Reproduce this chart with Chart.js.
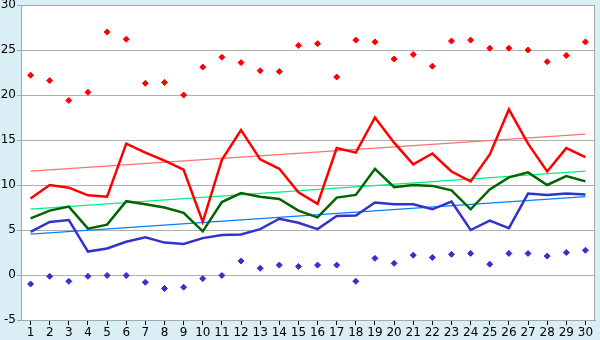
<!DOCTYPE html>
<html>
<head>
<meta charset="utf-8">
<script src="https://cdn.jsdelivr.net/npm/chart.js@4"></script>
<style>
  body { margin: 0; background: #d9eef5; }
</style>
</head>
<body>
<canvas id="myChart" width="600" height="340"></canvas>
<script>
const ctx = document.getElementById("myChart");

const days = [1, 2, 3, 4, 5, 6, 7, 8, 9, 10, 11, 12, 13, 14, 15, 16, 17, 18, 19, 20, 21, 22, 23, 24, 25, 26, 27, 28, 29, 30];
const yTicks = [-5, 0, 5, 10, 15, 20, 25, 30];

const maxPoints = [22.2, 21.6, 19.4, 20.3, 27.0, 26.2, 21.3, 21.4, 20.0, 23.1, 24.2, 23.6, 22.7, 22.6, 25.5, 25.7, 22.0, 26.1, 25.9, 24.0, 24.5, 23.2, 26.0, 26.1, 25.2, 25.2, 25.0, 23.7, 24.4, 25.9];
const redLine = [8.5, 10.0, 9.7, 8.85, 8.7, 14.6, 13.6, 12.7, 11.7, 5.9, 12.8, 16.1, 12.85, 11.8, 9.2, 7.9, 14.1, 13.6, 17.5, 14.7, 12.3, 13.5, 11.5, 10.4, 13.4, 18.4, 14.6, 11.5, 14.1, 13.1];
const greenLine = [6.3, 7.15, 7.6, 5.15, 5.6, 8.2, 7.85, 7.5, 6.9, 4.85, 8.1, 9.1, 8.7, 8.45, 7.15, 6.4, 8.6, 8.9, 11.8, 9.75, 10.0, 9.9, 9.4, 7.3, 9.5, 10.85, 11.4, 10.0, 11.0, 10.4];
const blueLine = [4.8, 5.9, 6.1, 2.6, 2.95, 3.7, 4.2, 3.6, 3.45, 4.1, 4.45, 4.5, 5.1, 6.25, 5.8, 5.1, 6.55, 6.6, 8.05, 7.85, 7.85, 7.3, 8.15, 5.0, 6.05, 5.2, 9.05, 8.9, 9.05, 8.95];
const minPoints = [-1.0, -0.15, -0.7, -0.15, -0.05, -0.05, -0.8, -1.5, -1.35, -0.4, -0.05, 1.55, 0.75, 1.1, 0.95, 1.1, 1.1, -0.7, 1.85, 1.3, 2.2, 1.95, 2.3, 2.4, 1.2, 2.4, 2.4, 2.1, 2.5, 2.75];

// trend lines: value at first and last day
const redTrend = [11.55, 15.65];
const greenTrend = [7.33, 11.55];
const blueTrend = [4.55, 8.7];

function ends(pair) {
  let d = days.map(() => null);
  d[0] = pair[0];
  d[d.length - 1] = pair[1];
  return d;
}

const frame = {
  id: "frame",
  beforeDraw(chart) {
    const c = chart.ctx;
    const a = chart.chartArea;
    c.save();
    c.fillStyle = "#d9eef5";
    c.fillRect(0, 0, chart.width, chart.height);
    c.fillStyle = "#ffffff";
    c.fillRect(a.left, a.top, a.right - a.left, a.bottom - a.top);
    c.restore();
  },
  afterDraw(chart) {
    const c = chart.ctx;
    const a = chart.chartArea;
    c.save();
    c.strokeStyle = "#a8a8a8";
    c.lineWidth = 1;
    c.strokeRect(a.left + 0.5, a.top + 0.5, a.right - a.left - 1, a.bottom - a.top);
    c.restore();
  },
};

function trendSet(data, color) {
  return {
    type: "line",
    data: ends(data),
    borderColor: color,
    borderWidth: 1.3,
    pointRadius: 0,
    spanGaps: true,
    order: 5,
  };
}

function lineSet(data, color) {
  return {
    type: "line",
    data: data,
    borderColor: color,
    borderWidth: 2.5,
    pointRadius: 0,
    tension: 0,
    order: 2,
  };
}

function pointSet(data, color) {
  return {
    type: "line",
    data: data,
    showLine: false,
    pointStyle: "rectRot",
    pointRadius: 3,
    pointBackgroundColor: color,
    pointBorderColor: color,
    pointBorderWidth: 1,
    order: 1,
  };
}

new Chart(ctx, {
  type: "line",
  data: {
    labels: days,
    datasets: [
      trendSet(redTrend, "#ff7070"),
      trendSet(greenTrend, "#00f080"),
      trendSet(blueTrend, "#0080ff"),
      lineSet(redLine, "#ff0000"),
      lineSet(greenLine, "#006400"),
      lineSet(blueLine, "#3333cc"),
      pointSet(maxPoints, "#ff0000"),
      pointSet(minPoints, "#3333cc"),
    ],
  },
  options: {
    responsive: false,
    animation: false,
    layout: { padding: { top: 5, right: 5, left: 0, bottom: 0 } },
    plugins: { legend: { display: false }, tooltip: { enabled: false } },
    scales: {
      x: {
        offset: true,
        grid: {
          display: true,
          drawOnChartArea: false,
          drawTicks: true,
          tickLength: 5,
          color: "#000000",
          offset: false,
        },
        border: { color: "#a8a8a8" },
        ticks: {
          color: "#000000",
          font: { family: "DejaVu Sans", size: 12 },
          padding: 1,
          maxRotation: 0,
          autoSkip: false,
        },
        afterFit(scale) {
          scale.height = 20;
        },
      },
      y: {
        min: -5,
        max: 30,
        afterBuildTicks(scale) {
          scale.ticks = yTicks.map((v) => ({ value: v }));
        },
        grid: {
          color: "#b0b0b0",
          tickLength: 4,
          tickColor: "#a8a8a8",
        },
        border: { color: "#a8a8a8" },
        ticks: {
          color: "#000000",
          font: { family: "DejaVu Sans", size: 12 },
          padding: 1,
        },
        afterFit(scale) {
          scale.width = 21;
          scale.paddingTop = 0;
          scale.paddingBottom = 0;
        },
      },
    },
  },
  plugins: [frame],
});
</script>
</body>
</html>
